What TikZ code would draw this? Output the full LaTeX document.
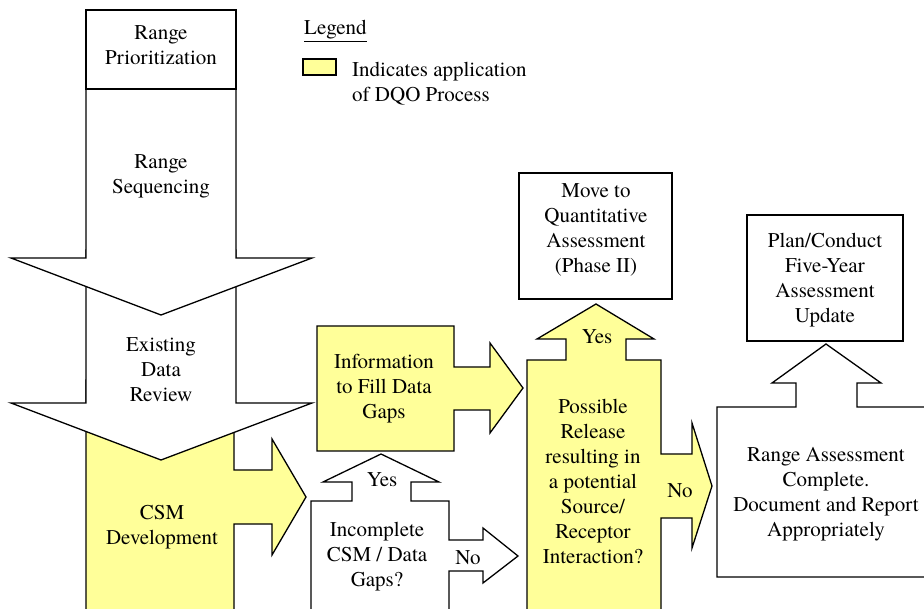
\documentclass[tikz,border=0pt]{standalone}
\usepackage{fontspec}
\setmainfont{TeX Gyre Termes}
\definecolor{dqoyellow}{RGB}{255,255,153}
\begin{document}
\begin{tikzpicture}[x=1pt,y=-1pt,
  shp/.style={draw=black, line width=1.3pt, line join=miter, fill=white},
  dqo/.style={shp, fill=dqoyellow},
  lbl/.style={font=\fontsize{21}{25}\selectfont, align=center, inner sep=0pt}]
\useasboundingbox (0,0) rectangle (924,609);
\clip (0,0) rectangle (924,609);
% CSM development (yellow) with right arrow
\draw[dqo] (86,380) -- (234,380) -- (234,470) -- (272,470) -- (272,439) -- (306,497)
  -- (272,555) -- (272,524) -- (234,524) -- (234,615) -- (86,615) -- cycle;
% Existing data review arrow
\draw[shp] (86,250) -- (86,403) -- (11,403) -- (161,460) -- (312,403) -- (236,403) -- (236,250) -- cycle;
% Range sequencing arrow
\draw[shp] (86,89) -- (86,258) -- (11,258) -- (161,315) -- (312,258) -- (236,258) -- (236,89) -- cycle;
% Range prioritization box
\draw[shp] (86,10) rectangle (236,89);
% Information to fill data gaps
\draw[dqo] (317,326) -- (454,326) -- (454,367) -- (490,367) -- (490,343) -- (523,388)
  -- (490,433) -- (490,410) -- (454,410) -- (454,451) -- (317,451) -- cycle;
% Incomplete CSM / data gaps
\draw[shp] (311,615) -- (311,501) -- (352,501) -- (352,482) -- (323,482) -- (381,454)
  -- (439,482) -- (411,482) -- (411,501) -- (449,501) -- (449,540) -- (483,540) -- (483,528)
  -- (518,556) -- (483,583) -- (483,571) -- (449,571) -- (449,615) -- cycle;
% Possible release
\draw[dqo] (527,615) -- (527,360) -- (566,360) -- (566,339) -- (537,339) -- (596,304)
  -- (654,339) -- (626,339) -- (626,360) -- (661,360) -- (661,454) -- (692,454) -- (692,423)
  -- (712,486) -- (692,548) -- (692,518) -- (661,518) -- (661,615) -- cycle;
% Move to quantitative assessment
\draw[shp] (519,173) rectangle (672,299);
% Range assessment complete
\draw[shp] (717,577) -- (717,407) -- (796,407) -- (796,383) -- (772,383) -- (826,344)
  -- (881,383) -- (857,383) -- (857,407) -- (935,407) -- (935,577) -- cycle;
% Plan/conduct
\draw[shp] (747,215) rectangle (903,341);
% Legend
\draw[dqo, line width=2.2pt] (303,59) rectangle (336,75);
% Texts
\node[lbl] (prio) at (161,45) {Range\\Prioritization};
\node[lbl] (seq) at (161,176) {Range\\Sequencing};
\node[lbl] (edr) at (161,370) {Existing\\Data\\Review};
\node[lbl] (csm) at (162,527) {CSM\\Development};
\node[lbl] (info) at (384,389) {Information\\to Fill Data\\Gaps};
\node[lbl] (yes1) at (382,480) {Yes};
\node[lbl] (inc) at (377,557) {Incomplete\\CSM / Data\\Gaps?};
\node[lbl] (no1) at (468,558) {No};
\node[lbl] (move) at (596,230) {Move to\\Quantitative\\Assessment\\(Phase II)};
\node[lbl] (yes2) at (597,337) {Yes};
\node[lbl] (rel) at (593,481) {Possible\\Release\\resulting in\\a potential\\Source/\\Receptor\\Interaction?};
\node[lbl] (no2) at (680,491) {No};
\node[lbl] (plan) at (825,280) {Plan/Conduct\\Five-Year\\Assessment\\Update};
\node[lbl] (rac) at (826,494) {Range Assessment\\Complete.\\Document and Report\\Appropriately};
\node[lbl, anchor=west] (leg) at (304,31) {\underline{Legend}};
\node[lbl, anchor=west, align=left] (legtxt) at (352,84) {Indicates application\\of DQO Process};
\end{tikzpicture}
\end{document}
